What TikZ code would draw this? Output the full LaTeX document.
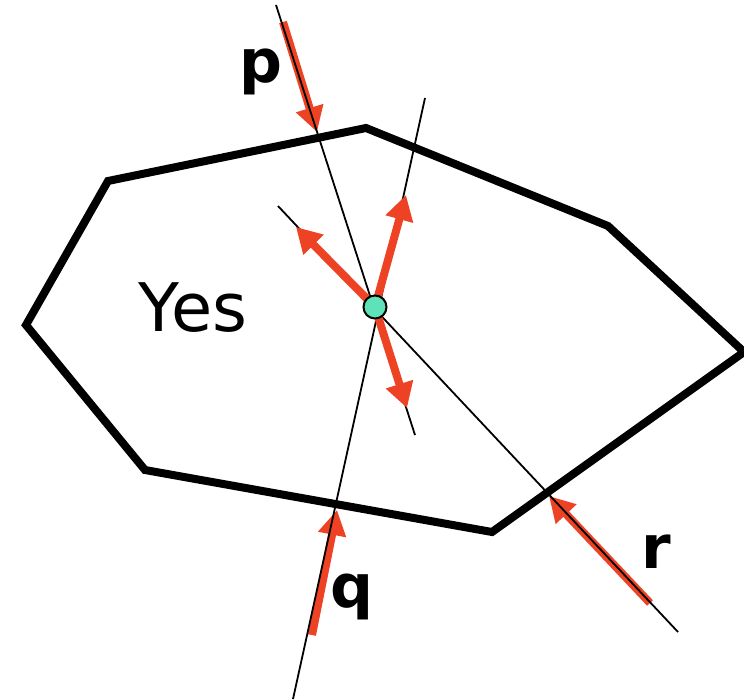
\documentclass[tikz,border=0pt]{standalone}
\usepackage{fontspec}
\setmainfont{DejaVu Sans}
\usetikzlibrary{arrows.meta}
\definecolor{raycolor}{RGB}{238, 66, 36}
\definecolor{pointcolor}{RGB}{96, 226, 184}

\begin{document}
\begin{tikzpicture}[
    x=1pt, y=-1pt,
    % Polygon outline
    hull/.style={draw=black, line width=8pt, line join=miter},
    % Thin guide lines
    guide/.style={draw=black, line width=1.8pt},
    % Red rays
    ray/.style={draw=raycolor, line width=8pt,
        -{Triangle[length=25pt, width=27pt]}},
    % Query point
    query/.style={circle, draw=black, fill=pointcolor, line width=2pt,
        minimum size=23pt, inner sep=0pt},
    % Labels
    letter/.style={font=\fontsize{60}{60}\selectfont\bfseries},
    verdict/.style={font=\fontsize{67}{67}\selectfont}
]
\useasboundingbox (0,0) rectangle (744,699);

% Polygon corners
\coordinate (v1) at (108,181);
\coordinate (v2) at (366,128);
\coordinate (v3) at (608,226);
\coordinate (v4) at (744,352);
\coordinate (v5) at (492,532);
\coordinate (v6) at (145,470);
\coordinate (v7) at (26,325);

\draw[hull] (v1) -- (v2) -- (v3) -- (v4) -- (v5) -- (v6) -- (v7) -- cycle;

% Query point
\coordinate (c) at (375,307);

% Guide line ends
\coordinate (p0) at (276,5);
\coordinate (p1) at (415,435);
\coordinate (q0) at (293,699);
\coordinate (q1) at (425,98);
\coordinate (r0) at (278,206);
\coordinate (r1) at (678,632);

% Incoming rays
\coordinate (pa) at (283,22);
\coordinate (pb) at (317,132);
\coordinate (qa) at (312,635);
\coordinate (qb) at (337,510);
\coordinate (ra) at (650,603);
\coordinate (rb) at (549,496);

\draw[ray] (pa) -- (pb);
\draw[ray] (qa) -- (qb);
\draw[ray] (ra) -- (rb);

% Guide lines (over the incoming rays)
\draw[guide] (p0) -- (p1);
\draw[guide] (q0) -- (q1);
\draw[guide] (r0) -- (r1);

% Outgoing rays from the point
\coordinate (qo) at (406,195);
\coordinate (ro) at (296,227);
\coordinate (po) at (407,408);

\draw[ray] (c) -- (qo);
\draw[ray] (c) -- (ro);
\draw[ray] (c) -- (po);

\node[query] (pt) at (c) {};

% Labels
\node[letter] (lp) at (261,72) {p};
\node[letter] (lq) at (352,597) {q};
\node[letter] (lr) at (656,552) {r};
\node[verdict] (yes) at (193,308) {Yes};

\end{tikzpicture}
\end{document}
